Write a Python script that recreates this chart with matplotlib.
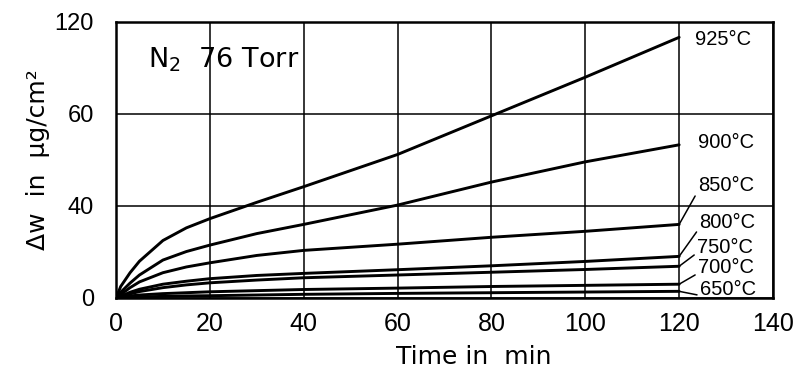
import numpy as np
import matplotlib
matplotlib.use("Agg")
import matplotlib.pyplot as plt

# Oxidation in N2 at 76 Torr: weight gain vs. time for several temperatures
time_min = [0, 1, 3, 5, 10, 15, 20, 30, 40, 60, 80, 100, 120]

gain_925 = [0, 5, 11, 16, 25, 30.5, 34.5, 40.8, 44.2, 51.2, 59.6, 84, 110]
gain_900 = [0, 2.5, 6.5, 10, 16.5, 20.2, 23, 28, 32, 40.2, 45.2, 49.6, 53.3]
gain_850 = [0, 1.5, 4.5, 7, 11, 13.5, 15.3, 18.5, 20.7, 23.4, 26.4, 29, 32]
gain_800 = [0, 0.8, 2.5, 3.8, 6, 7.3, 8.4, 9.8, 10.7, 12.3, 14, 15.9, 18.1]
gain_750 = [0, 0.6, 1.8, 2.8, 4.5, 5.7, 6.6, 7.8, 8.8, 10, 11.2, 12.4, 13.8]
gain_700 = [0, 0.3, 0.9, 1.3, 1.9, 2.3, 2.7, 3.2, 3.7, 4.3, 5, 5.5, 6]
gain_650 = [0, 0.2, 0.4, 0.5, 0.7, 0.9, 1, 1.3, 1.6, 2, 2.3, 2.6, 2.9]

series = [
    ("925°C", gain_925),
    ("900°C", gain_900),
    ("850°C", gain_850),
    ("800°C", gain_800),
    ("750°C", gain_750),
    ("700°C", gain_700),
    ("650°C", gain_650),
]

x_ticks = [0, 20, 40, 60, 80, 100, 120, 140]
y_ticks = [0, 40, 60, 120]

# label placement: (x in minutes, axes-fraction height, draw a leader line?)
label_pos = {
    "925°C": (123.4, 0.937, False),
    "900°C": (124.0, 0.562, False),
    "850°C": (124.0, 0.408, True),
    "800°C": (124.3, 0.274, True),
    "750°C": (123.8, 0.184, True),
    "700°C": (124.0, 0.110, True),
    "650°C": (124.4, 0.030, True),
}

NUM_FONT = "Liberation Sans"
TXT_FONT = "DejaVu Sans"

fig = plt.figure(figsize=(8.01, 3.74), dpi=100)
ax = fig.add_axes([116 / 801, 1 - 298 / 374, (773 - 116) / 801, (298 - 22) / 374])

# y axis: the labelled gridlines are evenly spaced
knots = np.arange(len(y_ticks), dtype=float)


def fwd(v):
    return np.interp(v, y_ticks, knots)


def inv(u):
    return np.interp(u, knots, y_ticks)


ax.set_yscale("function", functions=(fwd, inv))
ax.set_xlim(0, 140)
ax.set_ylim(0, 120)
ax.set_xticks(x_ticks)
ax.set_yticks(y_ticks)
ax.set_xticklabels([str(v) for v in x_ticks], fontsize=18, family=NUM_FONT)
ax.set_yticklabels([str(v) for v in y_ticks], fontsize=17, family=NUM_FONT)
ax.tick_params(axis="both", length=0)
ax.tick_params(axis="y", pad=16)
ax.tick_params(axis="x", pad=10)

ax.grid(True, color="black", lw=1.1)
ax.set_axisbelow(True)
for sp in ax.spines.values():
    sp.set_linewidth(1.8)

label_tr = ax.get_xaxis_transform()  # x in data, y in axes fraction
for name, vals in series:
    ax.plot(time_min, vals, color="black", lw=2.1, solid_capstyle="round")
    lx, ly, leader = label_pos[name]
    if leader:
        ax.annotate(name, xy=(time_min[-1], vals[-1]), xycoords="data",
                    xytext=(lx, ly), textcoords=label_tr,
                    fontsize=14.5, family=NUM_FONT, ha="left", va="center",
                    arrowprops=dict(arrowstyle="-", color="black", lw=1.1,
                                    shrinkA=0, shrinkB=0, relpos=(0.0, 0.2)))
    else:
        ax.text(lx, ly, name, transform=label_tr, fontsize=14.5,
                family=NUM_FONT, ha="left", va="center")

ax.text(0.048, 0.865, "N$_2$  76 Torr", transform=ax.transAxes,
        fontsize=19.5, family=TXT_FONT, ha="left", va="center")

ax.set_xlabel("Time in  min", fontsize=18, family=TXT_FONT)
ax.xaxis.set_label_coords((474 - 116) / 657, -0.17)
ax.set_ylabel("Δw  in  µg/cm²", fontsize=18, family=TXT_FONT, labelpad=3)

fig.savefig("out.png", dpi=100)
